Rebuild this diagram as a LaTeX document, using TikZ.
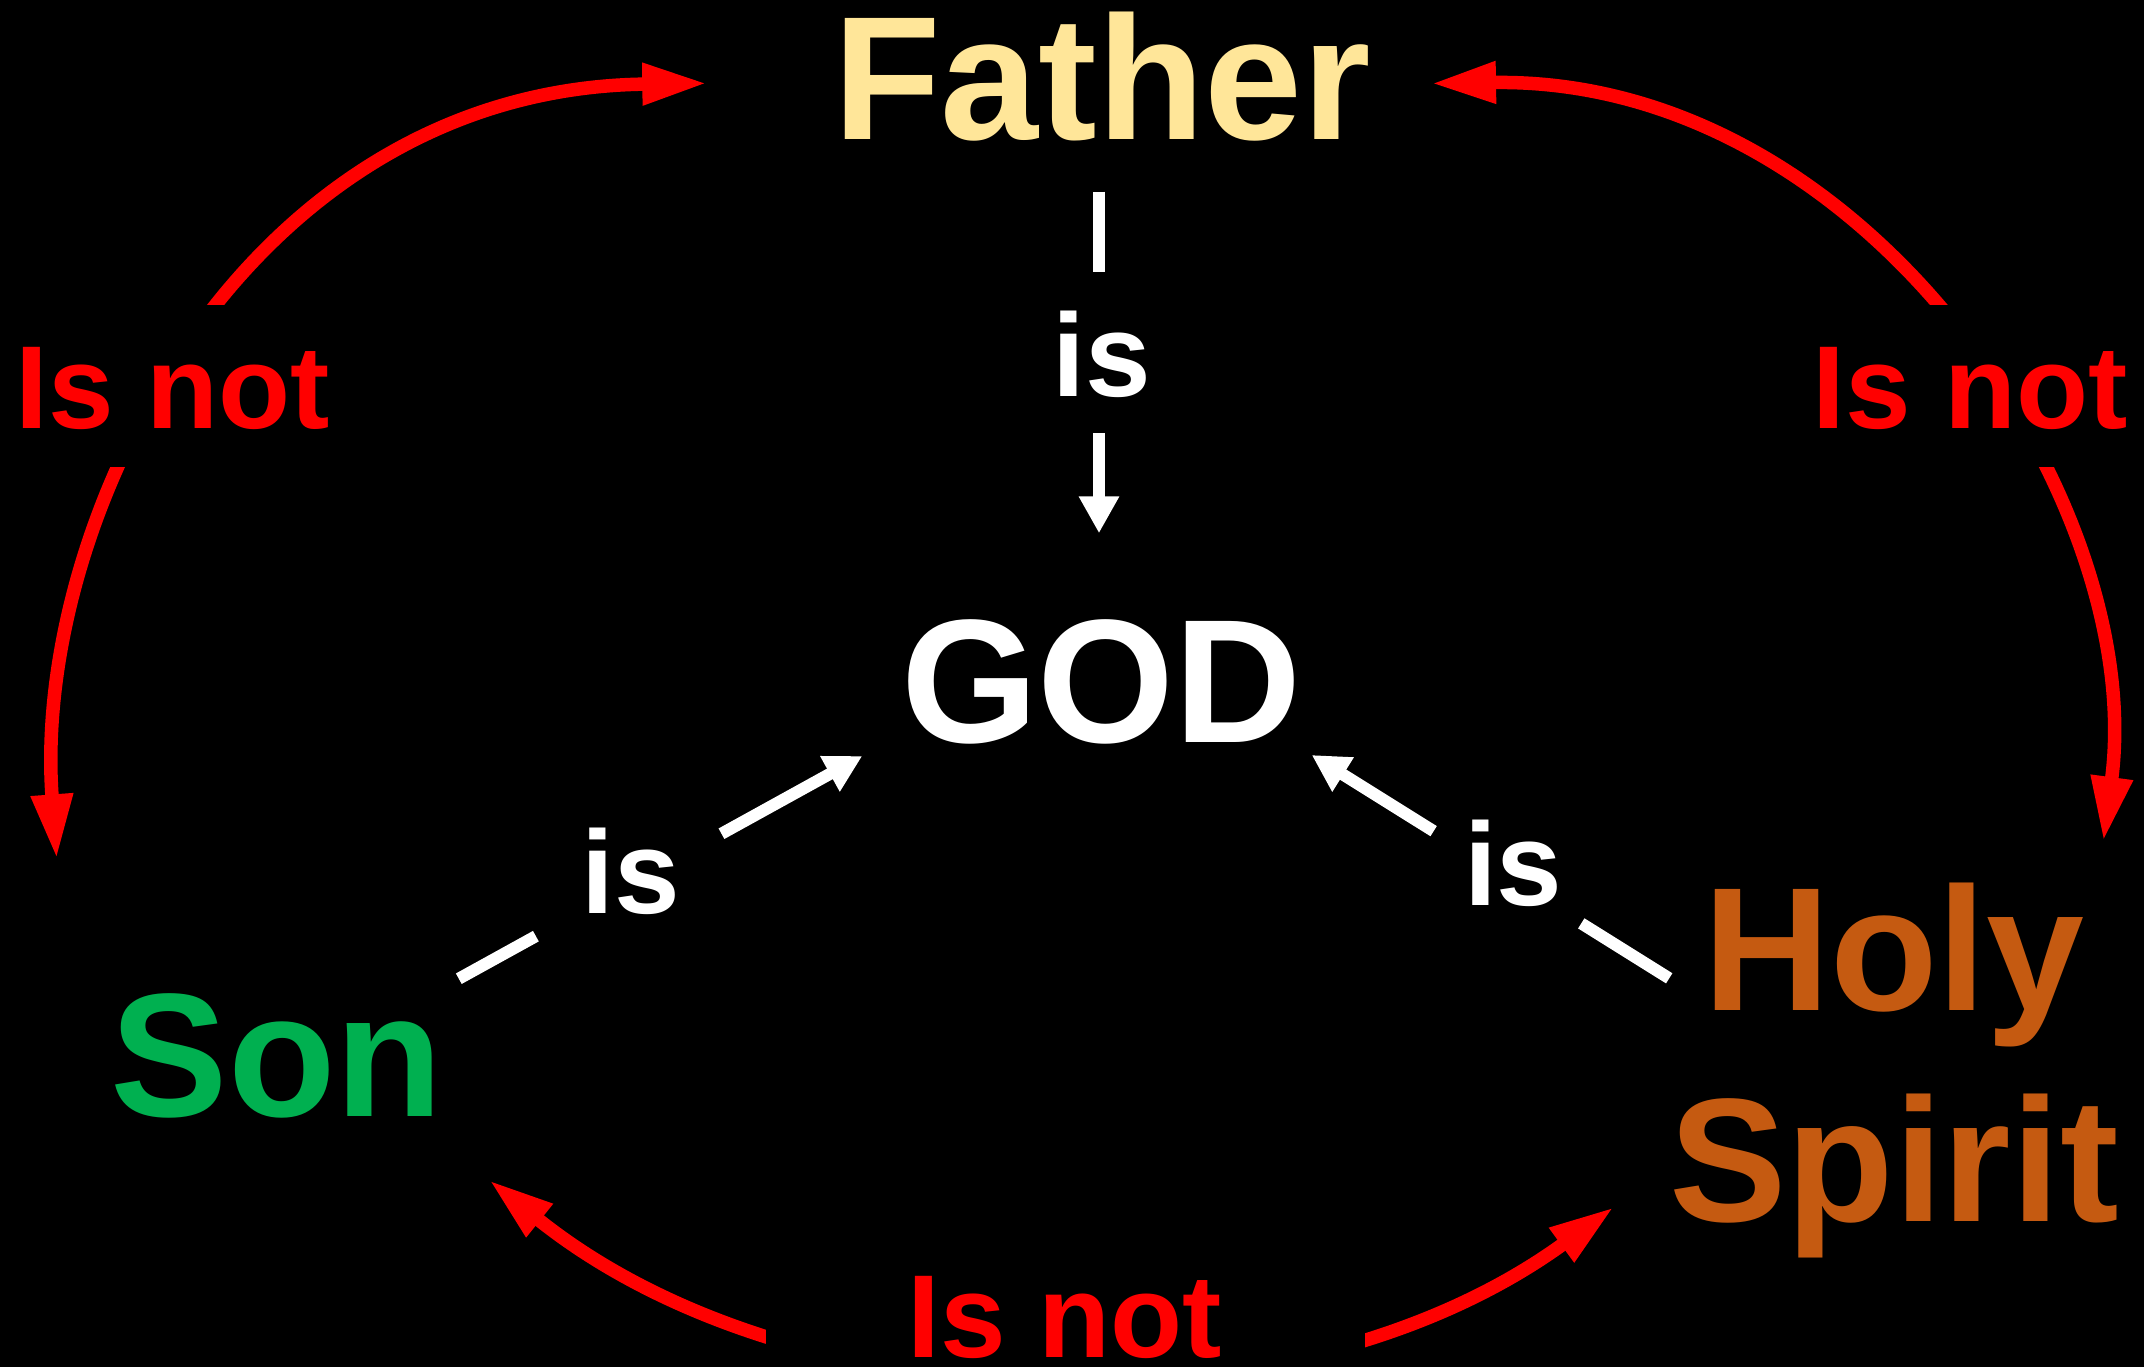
\documentclass[tikz,border=0pt]{standalone}
\usepackage{fontspec}
\setmainfont{Liberation Sans}
\usetikzlibrary{arrows.meta,calc}
\definecolor{fathercol}{HTML}{FFE699}
\definecolor{soncol}{HTML}{00B050}
\definecolor{spiritcol}{HTML}{C55A11}
\newcommand{\fbig}{\fontsize{176}{211}\selectfont\bfseries}
\newcommand{\fsmall}{\fontsize{118}{142}\selectfont\bfseries}
\begin{document}
\begin{tikzpicture}[x=1pt,y=-1pt,
  word/.style={anchor=base, inner sep=0pt, font=\fbig},
  lbl/.style={anchor=base, inner sep=0pt, font=\fsmall, text=white},
  isnot/.style={anchor=base, inner sep=0pt, font=\fsmall, text=red, fill=black,
                text height=123pt, text depth=39pt, minimum width=599pt},
  redarc/.style={draw=red, line width=13.5pt,
                 arrows={Triangle[length=65pt,width=39pt]-Triangle[length=65pt,width=39pt]}},
  wline/.style={draw=white, line width=12pt},
  warrow/.style={wline, arrows={-Triangle[length=37pt,width=38pt]}}]
\fill[black] (0,0) rectangle (2144,1367);
\useasboundingbox (0,0) rectangle (2144,1367);

% main words
\node[word, text=fathercol] (father) at (1102,139.5) {Father};
\node[word, text=white] (god) at (1101.5,742.5) {GOD};
\node[word, text=soncol] (son) at (277,1116) {Son};
\node[word, text=spiritcol, align=center] (spirit) at (1894,1221) {Holy\\Spirit};

% "is" labels
\node[lbl] (isT) at (1102,396) {is};
\node[lbl] (isL) at (630.5,913) {is};
\node[lbl] (isR) at (1513.3,905) {is};

% white arrows (broken around the labels)
\coordinate (tA) at (1099,191.7);
\coordinate (tB) at (1099,533.3);
\draw[wline] (tA) -- ($(tA)!0.234!(tB)$);
\draw[warrow] ($(tA)!0.707!(tB)$) -- (tB);

\coordinate (lA) at (458.8,978.7);
\coordinate (lB) at (862.3,756);
\draw[wline] (lA) -- ($(lA)!0.191!(lB)$);
\draw[warrow] ($(lA)!0.651!(lB)$) -- (lB);

\coordinate (rA) at (1669.2,978.3);
\coordinate (rB) at (1311.7,755);
\draw[wline] (rA) -- ($(rA)!0.246!(rB)$);
\draw[warrow] ($(rA)!0.659!(rB)$) -- (rB);

% red arcs
\coordinate (lt) at (707.3,83.3);
\coordinate (lb) at (56.7,859.3);
\coordinate (rt) at (1431,83.5);
\coordinate (rb) at (2103.3,841.7);
\coordinate (bl) at (489,1180);
\coordinate (br) at (1614,1207);
\draw[redarc] (lt) .. controls +(-465,6) and +(-25,-338) .. (lb);
\draw[redarc] (rt) .. controls +(435,-7) and +(45,-338) .. (rb);
\draw[redarc] (bl) .. controls +(308,247) and +(-319,232) .. (br);

% "Is not" labels with black boxes hiding the middle of the arcs
\node[isnot] (inL) at (173,428) {Is not};
\node[isnot] (inR) at (1970.3,428) {Is not};
\node[isnot, text depth=9pt] (inB) at (1065,1357.7) {Is not};
\end{tikzpicture}
\end{document}
